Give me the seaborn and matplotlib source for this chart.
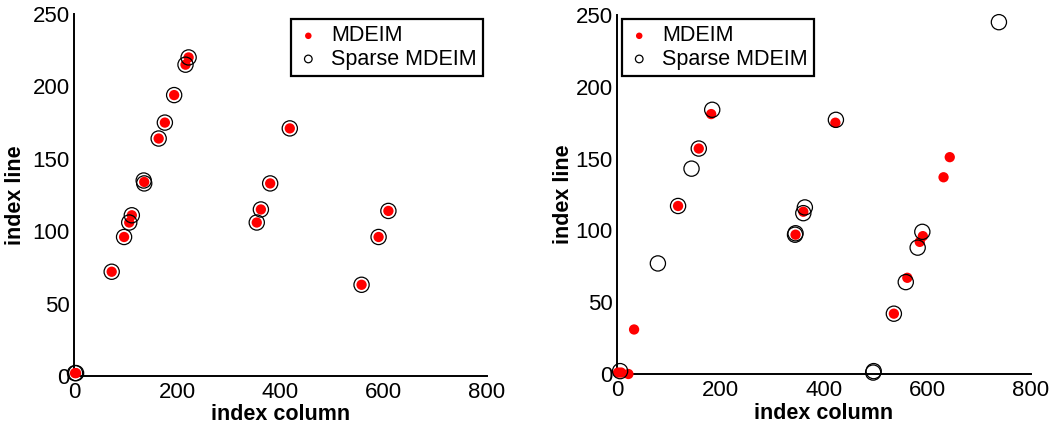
import matplotlib
matplotlib.use("Agg")
import matplotlib.pyplot as plt
import numpy as np
import pandas as pd
import seaborn as sns

# Selected interpolation indices (column, line) for each method
left_mdeim_col = [2, 4, 73, 97, 107, 112, 136, 164, 176, 194, 216, 222,
                  354, 362, 380, 418, 557, 590, 609]
left_mdeim_line = [2, 2, 72, 96, 106, 111, 134, 164, 175, 194, 215, 220,
                   106, 115, 133, 171, 63, 96, 114]
left_sparse_col = [2, 4, 73, 97, 107, 112, 135, 136, 164, 176, 194, 216, 222,
                   354, 362, 380, 418, 557, 590, 609]
left_sparse_line = [2, 2, 72, 96, 106, 111, 135, 133, 164, 175, 194, 215, 220,
                    106, 115, 133, 171, 63, 96, 114]

right_mdeim_col = [2, 8, 22, 33, 118, 158, 182, 345, 360, 422, 535, 561,
                   585, 591, 631, 643]
right_mdeim_line = [1, 1, 0, 31, 117, 157, 181, 97, 113, 175, 42, 67,
                    92, 96, 137, 151]
right_sparse_col = [6, 79, 118, 144, 158, 184, 344, 345, 360, 363, 423,
                    495, 496, 535, 558, 581, 590, 738]
right_sparse_line = [2, 77, 117, 143, 157, 184, 97, 98, 112, 116, 177,
                     1, 2, 42, 64, 88, 99, 245]

x_ticks = [0, 200, 400, 600, 800]
y_ticks = [0, 50, 100, 150, 200, 250]

sns.set_style("white")
plt.rcParams["font.family"] = ["Liberation Sans", "DejaVu Sans"]
plt.rcParams["text.color"] = "black"
plt.rcParams["axes.labelcolor"] = "black"
plt.rcParams["xtick.color"] = "black"
plt.rcParams["ytick.color"] = "black"

W, H = 1051, 423
fig = plt.figure(figsize=(W / 100, H / 100), dpi=100)

TICK_FS = 16
LABEL_FS = 15.5
LEG_FS = 15.5


def panel(rect, mc, ml, sc, sl, legend_anchor, legend_loc, ylab_x, xlab_y):
    ax = fig.add_axes(rect)
    mdeim = pd.DataFrame({"col": mc, "line": ml})
    sparse = pd.DataFrame({"col": sc, "line": sl})
    sns.scatterplot(data=mdeim, x="col", y="line", ax=ax, color="#ff0000",
                    s=55, edgecolor="none", linewidth=0, label="MDEIM",
                    clip_on=False, zorder=3)
    sns.scatterplot(data=sparse, x="col", y="line", ax=ax, marker="o",
                    facecolors="none", edgecolor="black", s=120,
                    linewidth=0.9, label="Sparse MDEIM", clip_on=False,
                    zorder=4)
    for coll in ax.collections[1:]:
        coll.set_facecolor("none")
    ax.set_xlim(0, 800)
    ax.set_ylim(0, 250)
    ax.set_xticks(x_ticks)
    ax.set_yticks(y_ticks)
    ax.tick_params(direction="in", length=4, width=1.3, labelsize=TICK_FS,
                   colors="black", labelcolor="black")
    ax.tick_params(axis="x", pad=4.5)
    ax.tick_params(axis="y", pad=3)
    for side in ("top", "right"):
        ax.spines[side].set_visible(False)
    for side in ("left", "bottom"):
        ax.spines[side].set_linewidth(1.4)
        ax.spines[side].set_color("black")
    ax.set_xlabel("index column", fontsize=LABEL_FS, fontweight="bold",
                  color="black")
    ax.set_ylabel("index line", fontsize=LABEL_FS, fontweight="bold",
                  color="black")
    ax.xaxis.set_label_coords(0.5, xlab_y)
    ax.yaxis.set_label_coords(ylab_x, 0.5)
    leg = ax.legend(loc=legend_loc, bbox_to_anchor=legend_anchor,
                    bbox_transform=fig.transFigure, borderaxespad=0,
                    fontsize=LEG_FS, frameon=True, fancybox=False,
                    framealpha=1, edgecolor="black", borderpad=0.3,
                    labelspacing=0.1, handlelength=1.0, handletextpad=0.55)
    leg.get_frame().set_linewidth(1.6)
    for t in leg.get_texts():
        t.set_color("black")
    handles = leg.legend_handles
    handles[0].set_sizes([22])
    handles[1].set_sizes([30])
    handles[1].set_facecolor("none")
    return ax


panel([74 / W, 1 - 376 / H, 413 / W, 362 / H],
      left_mdeim_col, left_mdeim_line, left_sparse_col, left_sparse_line,
      (483 / W, 1 - 19 / H), "upper right", -0.117, -0.077)
panel([617 / W, 1 - 374 / H, 414 / W, 359 / H],
      right_mdeim_col, right_mdeim_line, right_sparse_col, right_sparse_line,
      (622 / W, 1 - 19 / H), "upper left", -0.104, -0.08)

fig.savefig("out.png", dpi=100, facecolor="white")
